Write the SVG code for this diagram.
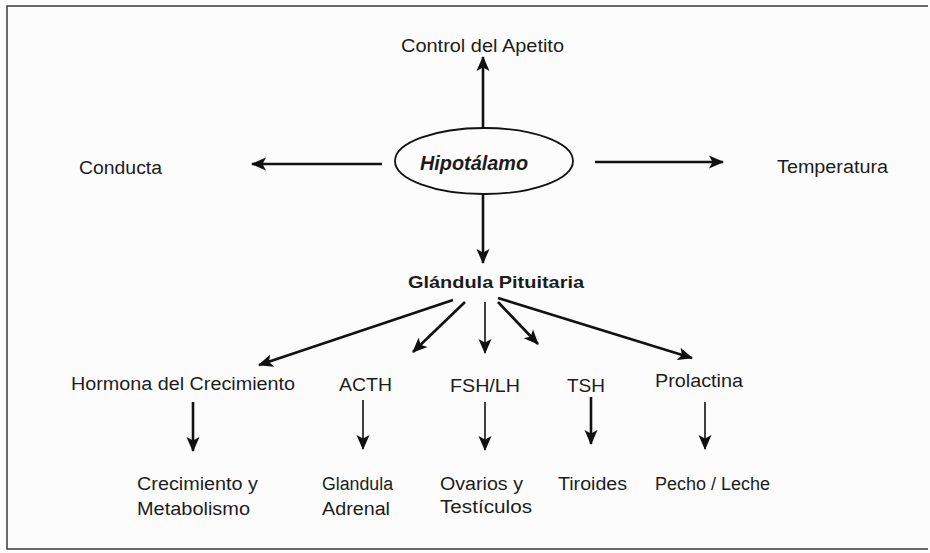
<svg xmlns="http://www.w3.org/2000/svg" width="930" height="553" viewBox="0 0 930 553">
<style>
text{font-family:"Liberation Sans",Arial,sans-serif;font-size:18px;fill:#1c1c1c}
.b{font-weight:bold;font-size:17px}
.bi{font-weight:bold;font-style:italic;font-size:20px}
.c{stroke:#111;fill:none;stroke-width:2.6}
.t{stroke:#111;fill:none;stroke-width:1.6}
</style>
<defs>
<marker id="ah" markerUnits="userSpaceOnUse" markerWidth="16" markerHeight="14" refX="14" refY="7" orient="auto">
<path d="M0,0.5 L15,7 L0,13.5 L3.5,7 Z" fill="#111"/>
</marker>
</defs>
<rect width="930" height="553" fill="#fcfcfc"/>
<path d="M928,6 H7 V549 H928" fill="none" stroke="#3a3a3a" stroke-width="1.5"/>
<g id="connectors">
<line class="c" x1="483" y1="128" x2="483" y2="57" marker-end="url(#ah)"/>
<line class="c" x1="382" y1="164" x2="252" y2="164" marker-end="url(#ah)"/>
<line class="c" x1="595" y1="162" x2="723" y2="162" marker-end="url(#ah)"/>
<line class="c" x1="483" y1="195" x2="483" y2="263" marker-end="url(#ah)"/>
<line class="c" x1="453" y1="300" x2="259" y2="365" marker-end="url(#ah)"/>
<line class="c" x1="465" y1="302" x2="413" y2="352" marker-end="url(#ah)"/>
<line class="t" x1="485" y1="302" x2="485" y2="353" marker-end="url(#ah)"/>
<line class="c" x1="498" y1="302" x2="538" y2="344" marker-end="url(#ah)"/>
<line class="c" x1="498" y1="298" x2="692" y2="358" marker-end="url(#ah)"/>
<line class="c" x1="193" y1="402" x2="193" y2="451" marker-end="url(#ah)"/>
<line class="t" x1="363" y1="400" x2="363" y2="449" marker-end="url(#ah)"/>
<line class="t" x1="485" y1="402" x2="485" y2="450" marker-end="url(#ah)"/>
<line class="c" x1="591" y1="397" x2="591" y2="444" marker-end="url(#ah)"/>
<line class="t" x1="705" y1="402" x2="705" y2="449" marker-end="url(#ah)"/>
</g>
<g id="control"><text x="401" y="52" textLength="163" lengthAdjust="spacingAndGlyphs">Control del Apetito</text></g>
<g id="hipotalamo">
<ellipse cx="484" cy="161" rx="89" ry="33" fill="none" stroke="#111" stroke-width="1.8"/>
<text class="bi" x="420" y="170" textLength="108" lengthAdjust="spacingAndGlyphs">Hipotálamo</text>
</g>
<g id="conducta"><text x="79" y="174" textLength="83" lengthAdjust="spacingAndGlyphs">Conducta</text></g>
<g id="temperatura"><text x="777" y="173" textLength="111" lengthAdjust="spacingAndGlyphs">Temperatura</text></g>
<g id="pituitaria"><text class="b" x="408" y="288" textLength="176" lengthAdjust="spacingAndGlyphs">Glándula Pituitaria</text></g>
<g id="hormona"><text x="71" y="390" textLength="224" lengthAdjust="spacingAndGlyphs">Hormona del Crecimiento</text></g>
<g id="acth"><text x="339" y="391" textLength="53" lengthAdjust="spacingAndGlyphs">ACTH</text></g>
<g id="fshlh"><text x="450" y="392" textLength="70" lengthAdjust="spacingAndGlyphs">FSH/LH</text></g>
<g id="tsh"><text x="567" y="392" textLength="38" lengthAdjust="spacingAndGlyphs">TSH</text></g>
<g id="prolactina"><text x="655" y="387" textLength="88" lengthAdjust="spacingAndGlyphs">Prolactina</text></g>
<g id="crecimiento">
<text x="137" y="490" textLength="121" lengthAdjust="spacingAndGlyphs">Crecimiento y</text>
<text x="137" y="515" textLength="113" lengthAdjust="spacingAndGlyphs">Metabolismo</text>
</g>
<g id="adrenal">
<text x="322" y="490" textLength="71" lengthAdjust="spacingAndGlyphs">Glandula</text>
<text x="322" y="515" textLength="68" lengthAdjust="spacingAndGlyphs">Adrenal</text>
</g>
<g id="ovarios">
<text x="440" y="490" textLength="83" lengthAdjust="spacingAndGlyphs">Ovarios y</text>
<text x="440" y="513" textLength="92" lengthAdjust="spacingAndGlyphs">Testículos</text>
</g>
<g id="tiroides"><text x="558" y="490" textLength="69" lengthAdjust="spacingAndGlyphs">Tiroides</text></g>
<g id="pecho"><text x="655" y="490" textLength="115" lengthAdjust="spacingAndGlyphs">Pecho / Leche</text></g>
</svg>
